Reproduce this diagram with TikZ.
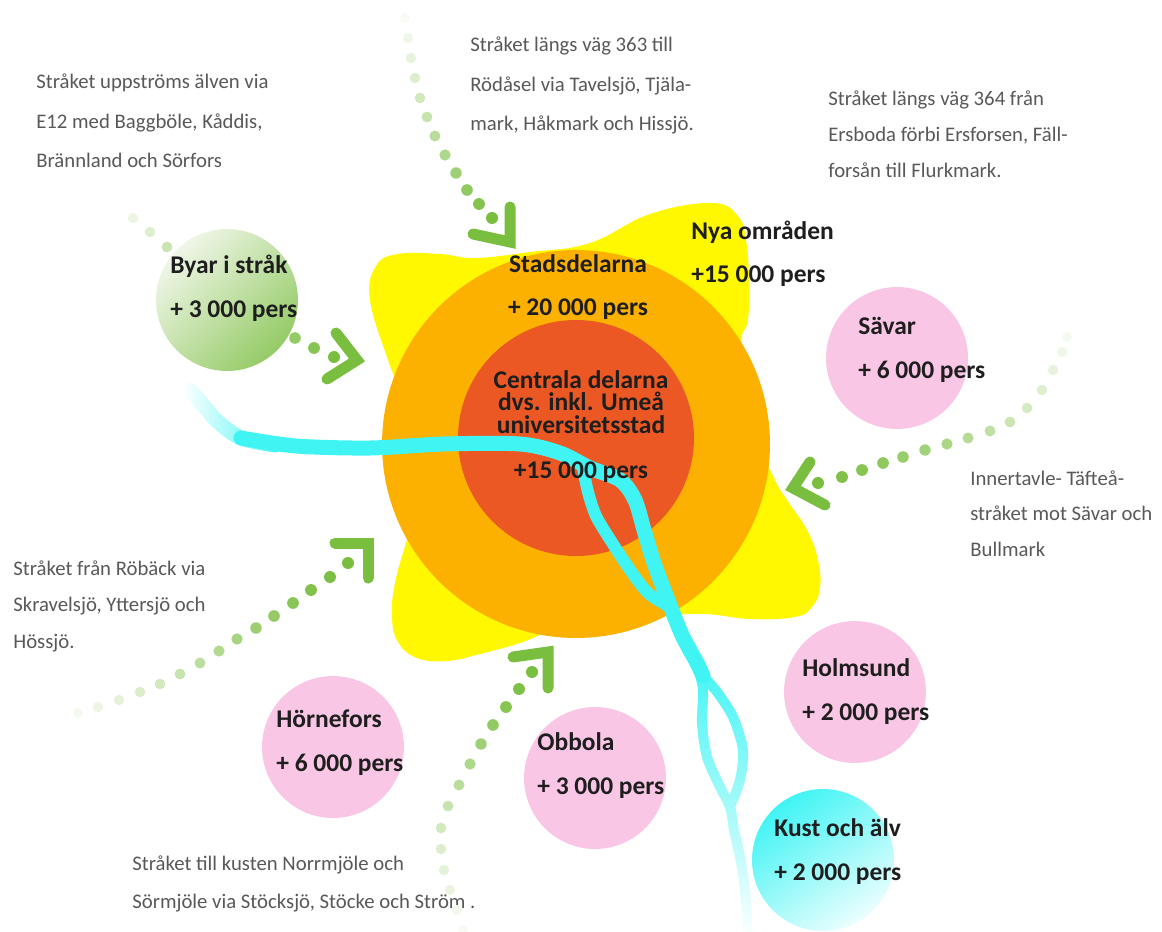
\documentclass[tikz,border=0pt]{standalone}
\usepackage{fontspec}
\setmainfont{Carlito}
\usepackage{xcolor}
\definecolor{sun}{RGB}{255,248,0}
\definecolor{ring}{RGB}{252,176,0}
\definecolor{core}{RGB}{236,88,36}
\definecolor{river}{RGB}{64,244,244}
\definecolor{leaf}{RGB}{122,190,64}
\definecolor{leafpale}{RGB}{240,246,232}
\definecolor{rose}{RGB}{249,199,229}
\definecolor{ink}{RGB}{30,30,30}
\definecolor{greytext}{RGB}{88,88,88}
\usepackage{tikz}
\usetikzlibrary{fadings}
\tikzstyle{village} = [
    circle,
    inner sep=0pt,
    minimum size=2.84cm,
]
\tikzstyle{pinkvillage} = [
    village,
    fill=rose,
]
\tikzstyle{lbl} = [
    anchor=base west,
    inner sep=0pt,
    align=left,
    text=ink,
    font=\bfseries\fontsize{14.5}{24.7}\selectfont,
]
\tikzstyle{notetext} = [
    anchor=base west,
    inner sep=0pt,
    align=left,
    text=greytext,
    font=\fontsize{11.8}{21.5}\selectfont,
]
\tikzstyle{chevron} = [draw=leaf, line width=0.22cm, line cap=round, line join=miter]
\tikzstyle{stream} = [draw=river, line width=0.3cm, line cap=round, line join=round]

\begin{document}
\begin{tikzpicture}[x=0.02cm, y=-0.02cm]
    \useasboundingbox (0,0) rectangle (1162,932);

    % zones
    \fill [sun] plot [smooth cycle, tension=0.7] coordinates {
        (370,300) (376,266) (398,254) (440,254) (475,258) (530,252)
        (590,243) (650,214) (712,203) (738,216) (746,240) (749,280)
        (748,320) (742,350) (762,445) (775,480) (787,500) (807,530)
        (818,560) (820,588) (812,607) (795,617) (750,619) (690,614)
        (600,625) (560,628) (520,643) (480,654) (447,661) (417,658)
        (398,642) (392,617) (395,583) (407,540) (420,500) (410,420)
        (388,360)};
    \node (city) [circle, fill=ring, minimum size=7.76cm] at (576,444) {};
    \node (centre) [circle, fill=core, minimum size=4.72cm] at (576,438) {};

    % river
    \draw [stream, path fading=west] plot [smooth] coordinates {(190,390) (203,405) (218,422) (241,438) (275,445)};
    \draw [stream] plot [smooth] coordinates {(241,438) (296,446) (370,448) (444,444) (520,444) (560,453) (590,468)
        (620,480) (635,500) (644,530) (654,563) (668,600) (682,635) (697,663) (703,676)};
    \draw [stream, line width=0.24cm] plot [smooth] coordinates {(583,468) (588,492) (596,516) (611,541) (628,567) (648,593) (670,607)};
    \draw [stream, line width=0.2cm, path fading=south]
        plot [smooth] coordinates {(697,663) (703,690) (702,723) (707,757) (720,787) (730,807) (734,830) (740,857) (745,890) (748,935)}
        plot [smooth] coordinates {(703,676) (717,692) (733,717) (743,750) (740,780) (730,807)};

    % villages
    \node (byar) [village, top color=leafpale, bottom color=leaf!80, shading angle=45] at (227,300) {};
    \node (savar) [pinkvillage] at (897,358) {};
    \node (holmsund) [pinkvillage] at (855,692) {};
    \node (hornefors) [pinkvillage] at (333,747) {};
    \node (obbola) [pinkvillage] at (595,778) {};
    \node (kust) [village, top color=river, bottom color=river!10, shading angle=35] at (823,860) {};

    % labels
    \node (byartxt) [lbl] at (170,317) {Byar i stråk\\+ 3 000 pers};
    \node (stadtxt) [lbl, anchor=base, align=center] at (578,316) {Stadsdelarna\\+ 20 000 pers};
    \node (nyatxt) [lbl] at (691,283) {Nya områden\\+15 000 pers};
    \node (savartxt) [lbl] at (858,378) {Sävar\\+ 6 000 pers};
    \node (centretxt) [lbl, anchor=base, align=center, font=\bfseries\fontsize{14.5}{12.6}\selectfont] at (581,433)
        {Centrala delarna\\dvs. inkl. Umeå\\universitetsstad};
    \node (centrenum) [lbl, anchor=base] at (581,478) {+15 000 pers};
    \node (holmtxt) [lbl] at (802,720) {Holmsund\\+ 2 000 pers};
    \node (horntxt) [lbl] at (276,771) {Hörnefors\\+ 6 000 pers};
    \node (obbtxt) [lbl] at (537,794) {Obbola\\+ 3 000 pers};
    \node (kusttxt) [lbl] at (774,880) {Kust och älv\\+ 2 000 pers};

    % notes
    \node (noteupstream) [notetext, font=\fontsize{11.8}{22.7}\selectfont] at (36,168)
        {Stråket uppströms älven via\\E12 med Baggböle, Kåddis,\\Brännland och Sörfors};
    \node (noteroad363) [notetext, font=\fontsize{11.8}{22.7}\selectfont] at (470,131)
        {Stråket längs väg 363 till\\Rödåsel via Tavelsjö, Tjäla-\\mark, Håkmark och Hissjö.};
    \node (noteroad364) [notetext, font=\fontsize{11.8}{20.7}\selectfont] at (828,178)
        {Stråket längs väg 364 från\\Ersboda förbi Ersforsen, Fäll-\\forsån till Flurkmark.};
    \node (noteinnertavle) [notetext, font=\fontsize{11.8}{20.1}\selectfont] at (970,556)
        {Innertavle- Täfteå-\\stråket mot Sävar och\\Bullmark};
    \node (noteroback) [notetext, font=\fontsize{11.8}{20.7}\selectfont] at (13,648)
        {Stråket från Röbäck via\\Skravelsjö, Yttersjö och\\Hössjö.};
    \node (notecoast) [notetext] at (132,908)
        {Stråket till kusten Norrmjöle och\\Sörmjöle via Stöcksjö, Stöcke och Ström .};

    % trails
    \coordinate (tipA) at (357,360);
    \coordinate (tipB) at (510,242);
    \coordinate (tipD) at (793,488);
    \coordinate (tipE) at (368,543);
    \coordinate (tipF) at (548,652);
    \foreach \x/\y/\s in {133/218/15, 150/232/25, 167/247/40, 295/338/80, 314/348/90, 334/357/100,
        405/18/6, 408/38/12, 411/58/18, 415/78/26, 420/98/34, 427/117/43,
        435/136/52, 445/155/62, 456/173/72, 467/190/82, 479/204/92, 492/218/100,
        1067/337/8, 1062/352/12, 1053/370/18, 1042/390/25, 1027/408/32, 1010/422/40, 990/431/48,
        968/438/56, 947/444/63, 925/450/70, 903/457/77, 883/463/84, 862/470/90, 842/477/95, 818/483/100,
        78/713/8, 98/707/14, 119/700/20, 140/692/27, 160/684/34, 180/674/42, 200/663/50, 219/651/58,
        237/639/66, 256/628/74, 274/616/81, 293/603/88, 311/590/94, 330/577/98, 348/563/100,
        463/930/6, 457/910/10, 450/890/15, 444/870/20, 441/849/26, 441/828/33, 448/806/42,
        459/785/52, 470/764/62, 481/744/72, 493/725/82, 506/707/90, 519/689/96, 532/672/100} {
        \pgfmathsetmacro\r{5+\s/100}
        \fill [leaf!\s!white] (\x,\y) circle (\r);
    }
    \draw [chevron] (tipA) ++(-21,-27) -- (tipA) -- ++(-30,19);
    \draw [chevron] (tipB) ++(0,-35) -- (tipB) -- ++(-37,-8);
    \draw [chevron] (tipD) ++(17,-26) -- (tipD) -- ++(32,17);
    \draw [chevron] (tipE) ++(-33,0) -- (tipE) -- ++(0,35);
    \draw [chevron] (tipF) ++(-35,5) -- (tipF) -- ++(0,36);

\end{tikzpicture}
\end{document}
